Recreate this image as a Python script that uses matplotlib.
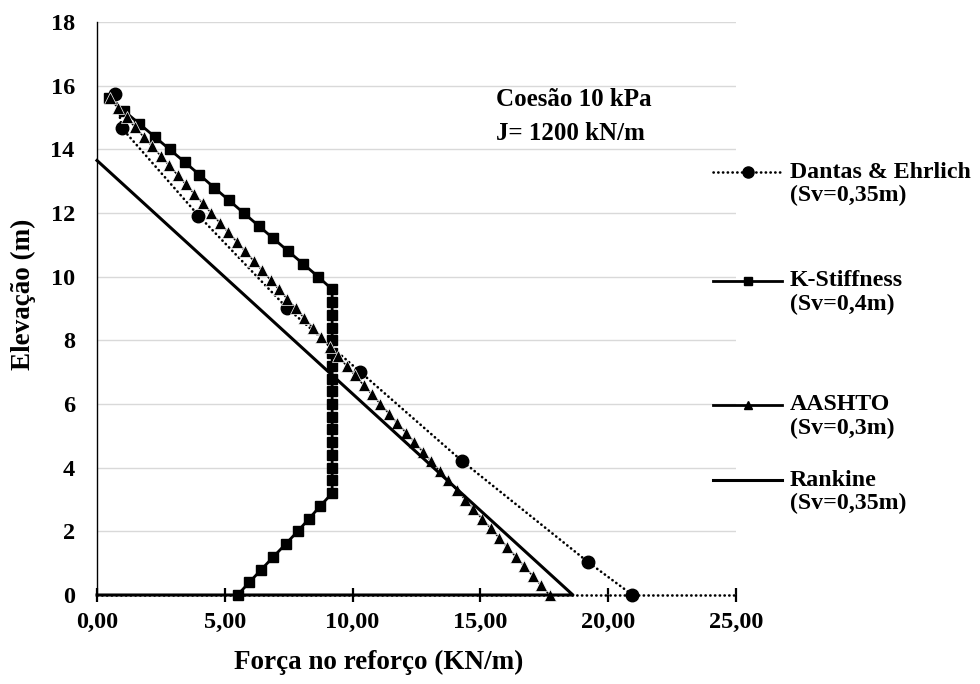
import matplotlib
matplotlib.use('Agg')
import matplotlib.pyplot as plt
from matplotlib.lines import Line2D

plt.rcParams['font.family'] = ['Liberation Serif', 'DejaVu Serif']
plt.rcParams['font.weight'] = 'bold'

# Dantas & Ehrlich (Sv=0,35m)
dantas_x = [0.72, 0.98, 3.97, 7.42, 10.28, 14.28, 19.22, 20.95]
dantas_y = [15.73, 14.66, 11.92, 9.03, 7.02, 4.21, 1.03, 0.0]

# K-Stiffness (Sv=0,4m)
kstiff_x = [0.45, 1.07, 1.66, 2.25, 2.84, 3.43, 4.01, 4.58, 5.16, 5.74, 6.32, 6.90, 7.48, 8.07, 8.65,
            9.2, 9.2, 9.2, 9.2, 9.2, 9.2, 9.2, 9.2, 9.2, 9.2, 9.2, 9.2, 9.2, 9.2, 9.2, 9.2, 9.2,
            8.74, 8.30, 7.85, 7.38, 6.90, 6.43, 5.96, 5.50]
kstiff_y = [15.6, 15.2, 14.8, 14.4, 14.0, 13.6, 13.2, 12.8, 12.4, 12.0, 11.6, 11.2, 10.8, 10.4, 10.0,
            9.6, 9.2, 8.8, 8.4, 8.0, 7.6, 7.2, 6.8, 6.4, 6.0, 5.6, 5.2, 4.8, 4.4, 4.0, 3.6, 3.2,
            2.8, 2.4, 2.0, 1.6, 1.2, 0.8, 0.4, 0.0]

# AASHTO (Sv=0,3m)
aashto_x = [0.50, 0.83, 1.16, 1.49, 1.82, 2.16, 2.49, 2.82, 3.15, 3.48, 3.81, 4.14, 4.47, 4.80,
            5.13, 5.47, 5.80, 6.13, 6.46, 6.79, 7.12, 7.45, 7.78, 8.11, 8.44, 8.78, 9.11, 9.44,
            9.77, 10.10, 10.43, 10.76, 11.09, 11.42, 11.75, 12.09, 12.42, 12.75, 13.08, 13.41,
            13.74, 14.07, 14.40, 14.73, 15.06, 15.40, 15.73, 16.06, 16.39, 16.72, 17.05, 17.38, 17.71]
aashto_y = [15.6, 15.3, 15.0, 14.7, 14.4, 14.1, 13.8, 13.5, 13.2, 12.9, 12.6, 12.3, 12.0, 11.7,
            11.4, 11.1, 10.8, 10.5, 10.2, 9.9, 9.6, 9.3, 9.0, 8.7, 8.4, 8.1, 7.8, 7.5,
            7.2, 6.9, 6.6, 6.3, 6.0, 5.7, 5.4, 5.1, 4.8, 4.5, 4.2, 3.9, 3.6, 3.3, 3.0, 2.7,
            2.4, 2.1, 1.8, 1.5, 1.2, 0.9, 0.6, 0.3, 0.0]

# Rankine (Sv=0,35m)
rankine_x = [0.0, 18.62, 0.0]
rankine_y = [13.65, 0.0, 0.0]

x_ticks = [0, 5, 10, 15, 20, 25]
x_labels = ['0,00', '5,00', '10,00', '15,00', '20,00', '25,00']
y_ticks = [0, 2, 4, 6, 8, 10, 12, 14, 16, 18]

legend_titles = ['Dantas & Ehrlich', 'K-Stiffness', 'AASHTO', 'Rankine']
legend_sub = ['(Sv=0,35m)', '(Sv=0,4m)', '(Sv=0,3m)', '(Sv=0,35m)']

DOT = (0, (0.1, 1.7))

fig = plt.figure(figsize=(9.8, 6.84), dpi=100)
ax = fig.add_axes([97/980, 1 - 595/684, (736 - 97)/980, (595 - 22)/684])

ax.plot(dantas_x, dantas_y, color='black', lw=1.9, linestyle=DOT,
        dash_capstyle='round', marker='o', ms=9, zorder=3, clip_on=False)
ax.plot(kstiff_x, kstiff_y, color='black', lw=2.0, marker='s', ms=7.3,
        markeredgecolor='black', zorder=4, clip_on=False)
ax.plot(aashto_x, aashto_y, color='black', lw=1.2, marker='^', ms=8.5,
        markeredgecolor='white', markeredgewidth=0.5, zorder=5, clip_on=False)
ax.plot(rankine_x, rankine_y, color='black', lw=2.2, zorder=6, clip_on=False)

ax.set_xlim(0, 25)
ax.set_ylim(0, 18)
ax.set_xticks(x_ticks)
ax.set_xticklabels(x_labels)
ax.set_yticks(y_ticks)

ax.grid(axis='y', color='#d9d9d9', lw=1.0)
ax.set_axisbelow(True)
for s in ['top', 'right']:
    ax.spines[s].set_visible(False)
ax.spines['left'].set_linewidth(1.0)
ax.spines['bottom'].set_linestyle(DOT)
ax.spines['bottom'].set_capstyle('round')
ax.spines['bottom'].set_linewidth(1.9)

ax.tick_params(axis='x', direction='inout', length=10, width=1.6, labelsize=17.5, pad=7)
ax.tick_params(axis='y', length=0, labelsize=17.5, pad=16)
for t in ax.xaxis.get_ticklines():
    t.set_linestyle((0, (1, 1.2)))
for lab in ax.get_xticklabels() + ax.get_yticklabels():
    lab.set_fontweight('bold')

ax.set_xlabel('Força no reforço (KN/m)', fontsize=19.5, fontweight='bold')
ax.xaxis.set_label_coords(0.441, -0.095)
ax.set_ylabel('Elevação (m)', fontsize=19.5, fontweight='bold')
ax.yaxis.set_label_coords(-0.095, 0.525)

ax.text(15.6, 15.55, 'Coesão 10 kPa', fontsize=18, fontweight='bold', va='center', ha='left')
ax.text(15.6, 14.5, 'J= 1200 kN/m', fontsize=18, fontweight='bold', va='center', ha='left')

# legend drawn by hand so the handle sits on the first text line
W, H = 980.0, 684.0
legend_y = [172, 281, 405, 480]
styles = [
    dict(linestyle=DOT, lw=1.9, marker='o', ms=8, dash_capstyle='round'),
    dict(linestyle='-', lw=2.0, marker='s', ms=5.5),
    dict(linestyle='-', lw=2.0, marker='^', ms=5.5),
    dict(linestyle='-', lw=2.2, marker=None, ms=0),
]
for yy, st, t1, t2 in zip(legend_y, styles, legend_titles, legend_sub):
    yf = 1 - yy / H
    fig.add_artist(Line2D([713 / W, 782 / W], [yf, yf], color='black',
                          linestyle=st['linestyle'], lw=st['lw'],
                          dash_capstyle=st.get('dash_capstyle', 'butt'),
                          transform=fig.transFigure))
    if st['marker']:
        fig.add_artist(Line2D([748 / W], [yf], color='black', marker=st['marker'],
                              ms=st['ms'], linestyle='none', transform=fig.transFigure))
    fig.text(790 / W, yf, t1, fontsize=17.2, fontweight='bold', va='center', ha='left')
    fig.text(790 / W, 1 - (yy + 23) / H, t2, fontsize=17.2, fontweight='bold', va='center', ha='left')

fig.savefig('out.png', dpi=100)
